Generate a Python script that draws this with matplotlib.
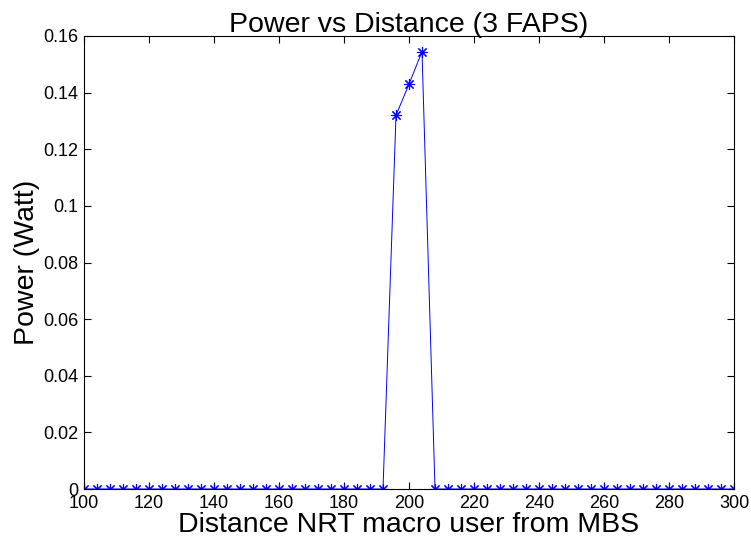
import numpy as np
import matplotlib.pyplot as plt

plt.rcParams['font.family'] = ['Liberation Sans', 'DejaVu Sans']

# distance samples (every 4 m) and power readings
distance = np.arange(100, 301, 4)
power = np.zeros(len(distance))
peak_dist = [196, 200, 204]
peak_power = [0.132, 0.143, 0.1545]
for d, p in zip(peak_dist, peak_power):
    power[distance == d] = p

fig = plt.figure(figsize=(7.51, 5.44), dpi=100)
ax = fig.add_axes([84/751, 55/544, 650/751, 453/544])
ax.plot(distance, power, color='blue', lw=0.7, marker=(8, 2, 0), ms=8, mew=0.8)
ax.set_xlim(100, 300)
ax.set_ylim(0, 0.16)
ax.set_xticks(np.arange(100, 301, 20))
ax.set_yticks(np.arange(0, 0.161, 0.02))
ax.set_yticklabels(['0', '0.02', '0.04', '0.06', '0.08', '0.1', '0.12', '0.14', '0.16'])
ax.tick_params(direction='in', top=True, right=True, labelsize=13, length=5, pad=4)
ax.set_xlabel('Distance NRT macro user from MBS', fontsize=20.5, labelpad=0)
ax.set_ylabel('Power (Watt)', fontsize=20.5, labelpad=2)
ax.set_title('Power vs Distance (3 FAPS)', fontsize=20.5, pad=3)
for s in ax.spines.values():
    s.set_linewidth(0.8)

fig.savefig('out.png', dpi=100)
